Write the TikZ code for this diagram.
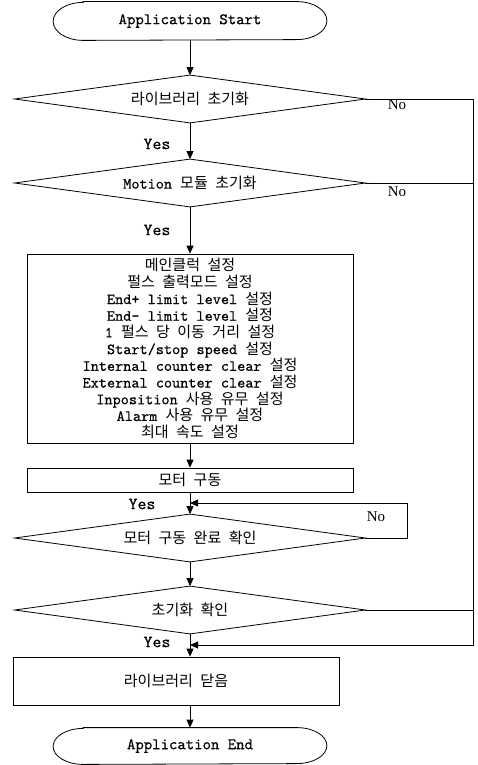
\documentclass[tikz,border=0pt]{standalone}
\usepackage{fontspec}
\setmainfont{Liberation Serif}
\setmonofont{lmmono10-regular.otf}[FakeBold=0.5]
\newfontfamily\kr[WordSpace=2.2,Scale=0.97]{Noto Sans CJK KR}
\usetikzlibrary{arrows.meta}
\newcommand{\K}[1]{{\kr #1}}
\begin{document}
\begin{tikzpicture}[x=1pt,y=-1pt,line width=0.8pt,
  arr/.style={-{Triangle[length=8pt,width=7pt]}},
  term/.style={minimum width=273pt,inner sep=0pt,font=\fontsize{16}{18}\selectfont\ttfamily},
  dec/.style={minimum width=350pt,minimum height=47pt,inner sep=0pt,font=\fontsize{15.5}{18}\selectfont\ttfamily},
  proc/.style={draw,minimum width=326pt,inner sep=0pt,font=\fontsize{15.5}{16.7}\selectfont\ttfamily},
  yeslab/.style={font=\fontsize{17}{17}\selectfont\ttfamily},
  nolab/.style={font=\fontsize{15}{15}\selectfont\rmfamily}]
\useasboundingbox (0,0) rectangle (477,765);
% terminals
\node[term,minimum height=38pt] (s) at (190,21) {Application Start};
\draw ([xshift=30pt]s.north west) -- ([xshift=-30pt]s.north east)
  arc[start angle=90,end angle=-90,x radius=30pt,y radius=19pt]
  -- ([xshift=30pt]s.south west)
  arc[start angle=270,end angle=90,x radius=30pt,y radius=19pt] -- cycle;
\node[term,minimum height=36pt] (e) at (190,746) {Application End};
\draw ([xshift=30pt]e.north west) -- ([xshift=-30pt]e.north east)
  arc[start angle=90,end angle=-90,x radius=30pt,y radius=18pt]
  -- ([xshift=30pt]e.south west)
  arc[start angle=270,end angle=90,x radius=30pt,y radius=18pt] -- cycle;
% decisions
\node[dec] (d1) at (190,99) {\K{라이브러리 초기화}};
\node[dec] (d2) at (190,183) {Motion \K{모듈 초기화}};
\node[dec] (d3) at (190,538) {\K{모터 구동 완료 확인}};
\node[dec] (d4) at (190,610) {\K{초기화 확인}};
\foreach \d in {d1,d2,d3,d4}
  \draw (\d.west) -- (\d.north) -- (\d.east) -- (\d.south) -- cycle;
% processes
\node[proc,minimum height=189pt,align=center] (b1) at (190,348.5) {%
\K{메인클럭 설정}\\
\K{펄스 출력모드 설정}\\
End+ limit level \K{설정}\\
End- limit level \K{설정}\\
1 \K{펄스 당 이동 거리 설정}\\
Start/stop speed \K{설정}\\
Internal counter clear \K{설정}\\
External counter clear \K{설정}\\
Inposition \K{사용 유무 설정}\\
Alarm \K{사용 유무 설정}\\
\K{최대 속도 설정}};
\node[proc,minimum height=24pt] (b2) at (190,480) {\K{모터 구동}};
\node[proc,minimum height=48pt] (b3) at (176,681) {\K{라이브러리 닫음}};
% main flow
\draw[arr] (s.south) -- (d1.north);
\draw[arr] (d1.south) -- (d2.north);
\draw[arr] (d2.south) -- (b1.north);
\draw[arr] (b1.south) -- (b2.north);
\draw[arr] (b2.south) -- (d3.north);
\draw[arr] (d3.south) -- (d4.north);
\draw[arr] (d4.south) -- (d4.south |- b3.north);
\draw[arr] (b3.south -| e.north) -- (e.north);
% right "No" bus
\coordinate (r1) at (473,99);
\coordinate (r2) at (473,645);
\coordinate (m2) at (190,645);
\draw[arr] (d1.east) -- (r1) -- (r2) -- (m2);
\draw (d2.east) -- (d2.east -| r1);
\draw (d4.east) -- (d4.east -| r1);
% loop on d3
\coordinate (l1) at (407,538);
\coordinate (l2) at (407,503);
\coordinate (l3) at (190,503);
\draw[arr] (d3.east) -- (l1) -- (l2) -- (l3);
% labels
\node[yeslab] (y1) at (157,144) {Yes};
\node[yeslab] (y2) at (157,230) {Yes};
\node[yeslab] (y3) at (142,504) {Yes};
\node[yeslab] (y4) at (157,642) {Yes};
\node[nolab] (n1) at (397,105) {No};
\node[nolab] (n2) at (397,192) {No};
\node[nolab] (n3) at (376,517) {No};
\end{tikzpicture}
\end{document}
